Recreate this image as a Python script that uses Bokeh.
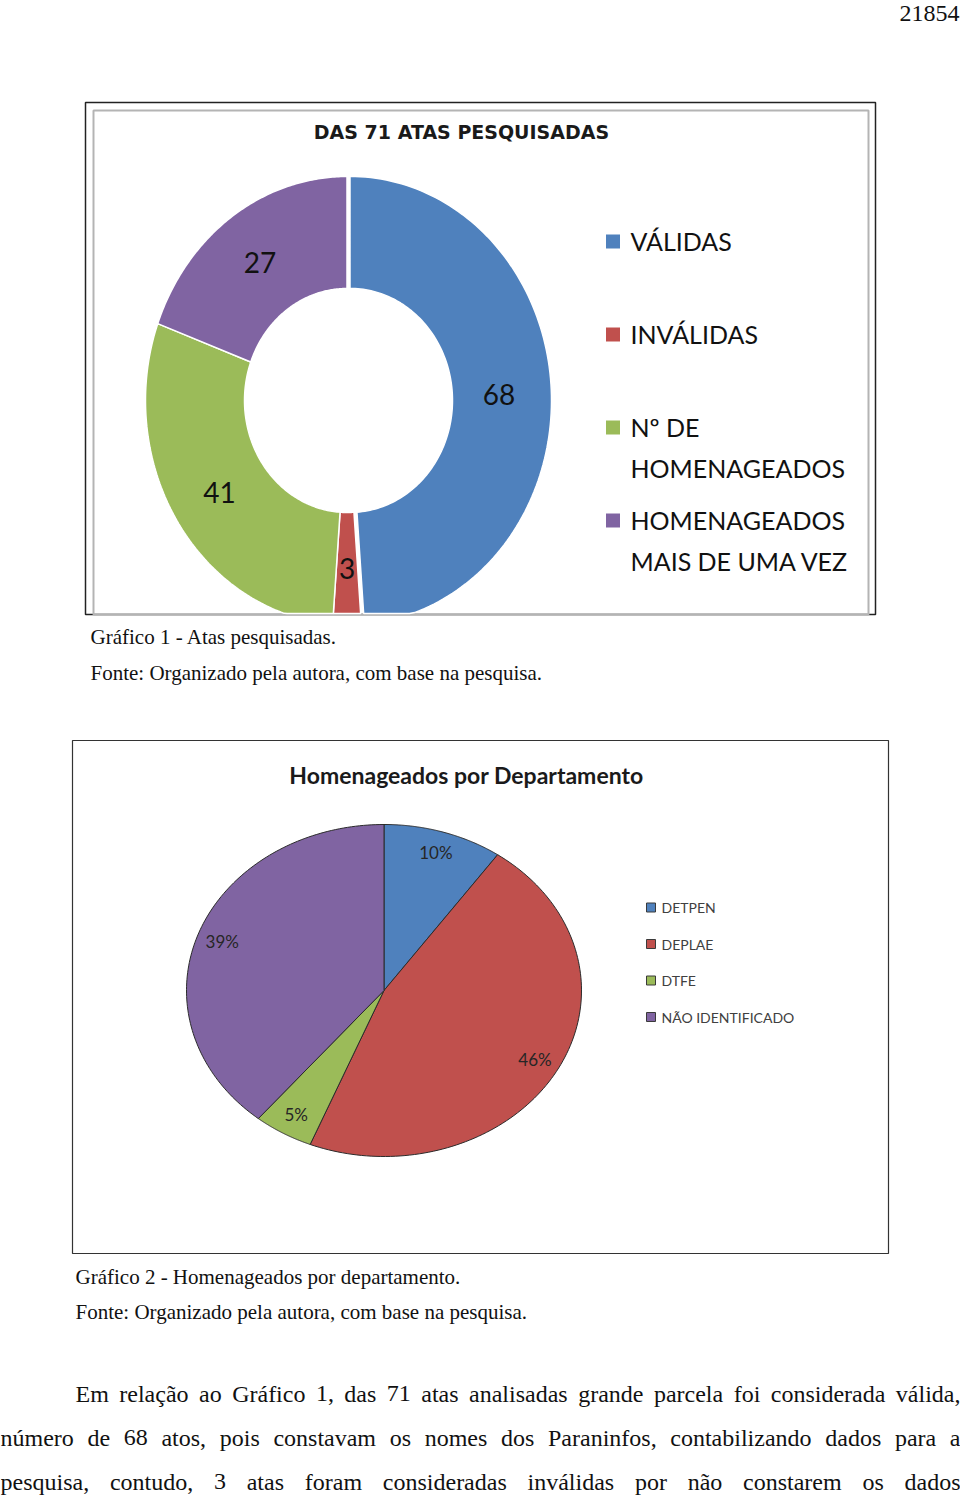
import numpy as np
from bokeh.plotting import figure
from bokeh.models import Range1d
from bokeh.core.properties import value
from bokeh.embed import file_html
from bokeh.resources import INLINE

# ---------------- data ----------------
atas_title = "DAS 71 ATAS PESQUISADAS"
atas_categories = ["VÁLIDAS", "INVÁLIDAS", "Nº DE\nHOMENAGEADOS", "HOMENAGEADOS\nMAIS DE UMA VEZ"]
atas_values = [68, 3, 41, 27]

dept_title = "Homenageados por Departamento"
dept_categories = ["DETPEN", "DEPLAE", "DTFE", "NÃO IDENTIFICADO"]
dept_values = [4, 19, 2, 16]

palette = ["#4F81BD", "#C0504D", "#9BBB59", "#8064A2"]

page_number = "21854"
caption1 = ["Gráfico 1 - Atas pesquisadas.", "Fonte: Organizado pela autora, com base na pesquisa."]
caption2 = ["Gráfico 2 - Homenageados por departamento.", "Fonte: Organizado pela autora, com base na pesquisa."]
paragraph = [
    "Em relação ao Gráfico 1, das 71 atas analisadas grande parcela foi considerada válida,",
    "número de 68 atos, pois constavam os nomes dos Paraninfos, contabilizando dados para a",
    "pesquisa, contudo, 3 atas foram consideradas inválidas por não constarem os dados",
]

# ---------------- page ----------------
W, H = 960, 1497
p = figure(width=W, height=H, x_range=Range1d(0, W), y_range=Range1d(H, 0),
           output_backend="svg", toolbar_location=None, min_border=0,
           x_axis_type=None, y_axis_type=None, outline_line_color=None,
           background_fill_color="white", border_fill_color="white")
p.grid.visible = False

SERIF = value("Liberation Serif")
SANS = value("Lato")


def ell_slice(cx, cy, rx, ry, t0, t1, rxi=0.0, ryi=0.0, n=120):
    th = np.linspace(t0, t1, n)
    xo = cx + rx * np.sin(th)
    yo = cy - ry * np.cos(th)
    if rxi > 0:
        xi = cx + rxi * np.sin(th[::-1])
        yi = cy - ryi * np.cos(th[::-1])
    else:
        xi, yi = np.array([cx]), np.array([cy])
    return np.concatenate([xo, xi]), np.concatenate([yo, yi])


# page number
p.text(x=[959], y=[13], text=[page_number], text_font=SERIF, text_font_size="24px",
       text_align="right", text_baseline="middle", text_color="#111111")

# ================= chart 1 : donut =================
p.quad(left=[85], right=[875], top=[102], bottom=[614], fill_color=None,
       line_color="#222222", line_width=1.5)
p.quad(left=[93], right=[868], top=[110], bottom=[614], fill_color=None,
       line_color="#b4b4b4", line_width=2)

p.text(x=[461], y=[131], text=[atas_title], text_font=value("DejaVu Sans"),
       text_font_style="bold", text_font_size="19px", text_align="center",
       text_baseline="middle", text_color="#1a1a1a")

cx1, cy1, rx1, ry1, rxi1, ryi1 = 346.5, 400.0, 201.5, 224.0, 102.5, 112.0
clip_y = 613.0
v1 = np.array(atas_values, dtype=float)
edges1 = np.concatenate([[0], np.cumsum(v1 / v1.sum())]) * 2 * np.pi
xs1, ys1, lx1, ly1 = [], [], [], []
for i in range(len(v1)):
    t0, t1 = edges1[i], edges1[i + 1]
    mid = 0.5 * (t0 + t1)
    xx, yy = ell_slice(cx1, cy1, rx1, ry1, t0, t1, rxi1, ryi1)
    off = 3.0 if i == 0 else 0.0
    xx = xx + off * np.sin(mid)
    yy = yy - off * np.cos(mid)
    xs1.append(xx)
    ys1.append(np.minimum(yy, clip_y))
    lx1.append(cx1 + 0.5 * (rx1 + rxi1) * np.sin(mid))
    ly1.append(cy1 - 0.5 * (ry1 + ryi1) * np.cos(mid))

p.patches(xs=xs1, ys=ys1, fill_color=palette, line_color="white", line_width=1.5)
p.text(x=lx1, y=ly1, text=[str(int(v)) for v in atas_values], text_font=SANS,
       text_font_size="28px", text_align="center", text_baseline="middle",
       text_color="#111111")

# legend 1
leg1_y0, leg1_step, leg1_line = 240.0, 93.0, 41.0
sq_x, sq_y = [], []
tx, ty, tt = [], [], []
for i, lab in enumerate(atas_categories):
    yb = leg1_y0 + i * leg1_step
    sq_x.append(612.5)
    sq_y.append(yb + 1)
    for j, part in enumerate(lab.split("\n")):
        tx.append(630)
        ty.append(yb + j * leg1_line)
        tt.append(part)
p.rect(x=sq_x, y=sq_y, width=14, height=14, fill_color=palette, line_color=None)
p.text(x=tx, y=ty, text=tt, text_font=SANS, text_font_size="25px",
       text_align="left", text_baseline="middle", text_color="#111111")

# caption 1
p.text(x=[90, 90], y=[636, 672], text=caption1, text_font=SERIF, text_font_size="21px",
       text_baseline="alphabetic", text_color="#111111")

# ================= chart 2 : pie =================
p.quad(left=[72], right=[888], top=[740], bottom=[1253], fill_color=None,
       line_color="#333333", line_width=1.2)
p.text(x=[466], y=[774], text=[dept_title], text_font=SANS, text_font_style="bold",
       text_font_size="23px", text_align="center", text_baseline="middle",
       text_color="#1a1a1a")

cx2, cy2, rx2, ry2 = 383.5, 990.0, 197.5, 166.0
v2 = np.array(dept_values, dtype=float)
fr2 = v2 / v2.sum()
edges2 = np.concatenate([[0], np.cumsum(fr2)]) * 2 * np.pi
xs2, ys2, lx2, ly2 = [], [], [], []
for i in range(len(v2)):
    t0, t1 = edges2[i], edges2[i + 1]
    mid = 0.5 * (t0 + t1)
    xx, yy = ell_slice(cx2, cy2, rx2, ry2, t0, t1)
    xs2.append(xx)
    ys2.append(yy)
    lx2.append(cx2 + 0.87 * rx2 * np.sin(mid))
    ly2.append(cy2 - 0.87 * ry2 * np.cos(mid))
p.patches(xs=xs2, ys=ys2, fill_color=palette, line_color="#2b2b2b", line_width=1)
p.text(x=lx2, y=ly2, text=[f"{round(f * 100)}%" for f in fr2], text_font=SANS,
       text_font_size="17px", text_align="center", text_baseline="middle",
       text_color="#262626")

# legend 2
leg2_y = [907 + 36.5 * i for i in range(len(dept_categories))]
p.rect(x=[650.5] * 4, y=leg2_y, width=9, height=9, fill_color=palette,
       line_color="#3a3a3a", line_width=1)
p.text(x=[661] * 4, y=leg2_y, text=dept_categories, text_font=SANS,
       text_font_size="14px", text_align="left", text_baseline="middle",
       text_color="#404040")

# caption 2
p.text(x=[75, 75], y=[1276, 1311], text=caption2, text_font=SERIF, text_font_size="21px",
       text_baseline="alphabetic", text_color="#111111")

# ================= justified paragraph =================
TW = {" ": 250, "a": 444, "b": 500, "c": 444, "d": 500, "e": 444, "f": 333, "g": 500,
      "h": 500, "i": 278, "j": 278, "k": 500, "l": 278, "m": 778, "n": 500, "o": 500,
      "p": 500, "q": 500, "r": 333, "s": 389, "t": 278, "u": 500, "v": 500, "w": 722,
      "x": 500, "y": 500, "z": 444, "á": 444, "ã": 444, "ç": 444, "ú": 500, "é": 444,
      "í": 278, "ó": 500, "õ": 500, "â": 444, "ê": 444, "E": 611, "G": 722, "P": 556,
      "F": 556, "O": 722, "A": 722, ",": 250, ".": 250, "-": 333, ":": 278}
for d in "0123456789":
    TW[d] = 500

fs = 24
starts = [75, 0, 0]
bases = [1393, 1437, 1481]
wx, wy, wt = [], [], []
for line, x0, yb in zip(paragraph, starts, bases):
    words = line.split(" ")
    widths = [sum(TW.get(c, 500) for c in w) * fs / 1000.0 for w in words]
    gap = (960 - x0 - sum(widths)) / (len(words) - 1)
    x = x0
    for w, wd in zip(words, widths):
        wx.append(x)
        wy.append(yb)
        wt.append(w)
        x += wd + gap
p.text(x=wx, y=wy, text=wt, text_font=SERIF, text_font_size=f"{fs}px",
       text_align="left", text_baseline="alphabetic", text_color="#111111")

open("out.html", "w").write(file_html(p, INLINE))
